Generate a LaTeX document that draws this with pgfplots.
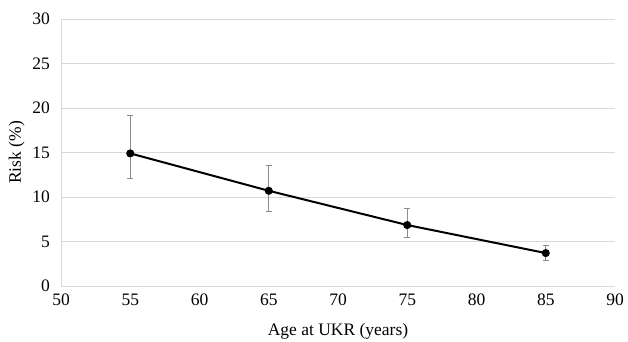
\documentclass[border=0pt]{standalone}
\usepackage{pgfplots}
\pgfplotsset{compat=1.18}
\usepackage{fontspec}
\setmainfont{Liberation Serif}
\usetikzlibrary{calc}
\definecolor{gridc}{RGB}{217,217,217}
\definecolor{errc}{RGB}{140,140,140}
\begin{document}
\fontsize{17.5}{20}\selectfont
\begin{tikzpicture}
\begin{axis}[
  scale only axis,
  width=554pt, height=267pt,
  xmin=50, xmax=90, ymin=0, ymax=30,
  xtick={50,55,...,90}, ytick={0,5,...,30},
  axis x line*=bottom, axis y line*=left,
  axis line style={draw=gridc, line width=0.8pt},
  tick style={draw=none},
  ymajorgrids, grid style={draw=gridc, line width=0.8pt},
  /pgf/number format/assume math mode=true,
  tick label style={font=\fontsize{17.5}{20}\selectfont},
  label style={font=\fontsize{17.5}{20}\selectfont},
  xlabel={Age at UKR (years)},
  ylabel={Risk (\%)},
  xticklabel style={yshift=-2pt},
  yticklabel style={xshift=-5pt},
  xlabel style={yshift=-6pt},
  ylabel style={yshift=-4pt},
]
\addplot[black, line width=2pt, mark=*, mark size=3pt,
  error bars/.cd, y dir=both, y explicit,
  error bar style={draw=errc, line width=0.9pt},
  error mark options={draw=errc, line width=0.9pt, rotate=90, mark size=3.2pt}]
coordinates {
 (55,14.9) += (0,4.3) -= (0,2.8)
 (65,10.7) += (0,2.8) -= (0,2.35)
 (75,6.85) += (0,1.85) -= (0,1.35)
 (85,3.7) += (0,0.9) -= (0,0.8)
};
\end{axis}
\pgfresetboundingbox
\useasboundingbox ($(current axis.south west)+(-61pt,-55pt)$) rectangle ++(628pt,341pt);
\end{tikzpicture}
\end{document}
